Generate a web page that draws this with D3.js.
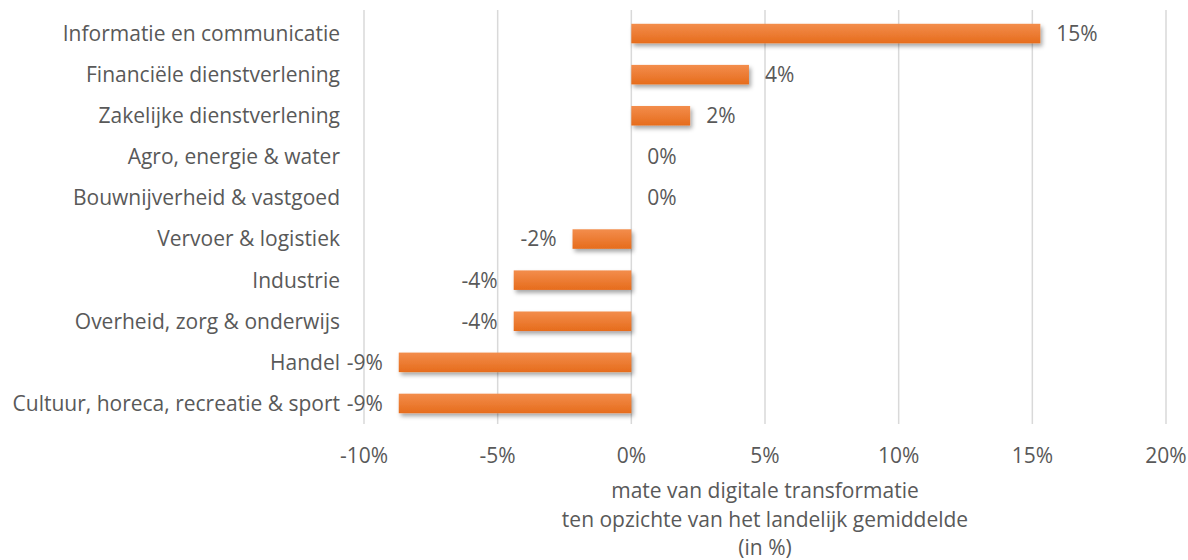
<!DOCTYPE html>
<html>
<head>
<meta charset="utf-8">
<script src="https://cdn.jsdelivr.net/npm/d3@7"></script>
<style>
  body { margin: 0; background: #fff; }
  text { font-family: 'Open Sans', Lato, sans-serif; fill: #595959; }
</style>
</head>
<body>
<div id="chart"></div>
<script>
// data
const categories = [
  'Informatie en communicatie',
  'Financiële dienstverlening',
  'Zakelijke dienstverlening',
  'Agro, energie & water',
  'Bouwnijverheid & vastgoed',
  'Vervoer & logistiek',
  'Industrie',
  'Overheid, zorg & onderwijs',
  'Handel',
  'Cultuur, horeca, recreatie & sport'
];
const values = [15.3, 4.4, 2.2, 0, 0, -2.2, -4.4, -4.4, -8.7, -8.7];
const xTicks = [-10, -5, 0, 5, 10, 15, 20];
const axisTitle = ['mate van digitale transformatie', 'ten opzichte van het landelijk gemiddelde', '(in %)'];

const width = 1188, height = 560;
const margin = { top: 13, right: 22, bottom: 136, left: 364 };
const fontSize = 21;

const svg = d3.select('#chart').append('svg')
  .attr('width', width)
  .attr('height', height);

const defs = svg.append('defs');

const grad = defs.append('linearGradient')
  .attr('id', 'bar-grad')
  .attr('x1', 0).attr('y1', 0).attr('x2', 0).attr('y2', 1);
grad.append('stop').attr('offset', '0%').attr('stop-color', '#f38d4c');
grad.append('stop').attr('offset', '100%').attr('stop-color', '#e66c1c');

const shadow = defs.append('filter')
  .attr('id', 'shadow')
  .attr('x', '-10%').attr('y', '-30%')
  .attr('width', '130%').attr('height', '190%');
shadow.append('feDropShadow')
  .attr('dx', 2).attr('dy', 3)
  .attr('stdDeviation', 2)
  .attr('flood-color', '#000')
  .attr('flood-opacity', 0.35);

const x = d3.scaleLinear()
  .domain([-10, 20])
  .range([margin.left, width - margin.right]);

const y = d3.scaleBand()
  .domain(categories)
  .range([margin.top, height - margin.bottom])
  .paddingInner(0.525)
  .paddingOuter(0.2625);

// gridlines
svg.append('g')
  .selectAll('line')
  .data(xTicks)
  .join('line')
  .attr('x1', d => x(d)).attr('x2', d => x(d))
  .attr('y1', margin.top - 3)
  .attr('y2', height - margin.bottom)
  .attr('stroke', '#d9d9d9')
  .attr('stroke-width', 1.5);

// x tick labels
svg.append('g')
  .selectAll('text')
  .data(xTicks)
  .join('text')
  .attr('x', d => x(d))
  .attr('y', 463)
  .attr('text-anchor', 'middle')
  .attr('font-size', fontSize)
  .text(d => d + '%');

// bars
svg.append('g')
  .selectAll('rect')
  .data(values.map((v, i) => ({ cat: categories[i], v })).filter(d => d.v !== 0))
  .join('rect')
  .attr('x', d => x(Math.min(0, d.v)))
  .attr('y', d => y(d.cat))
  .attr('width', d => Math.abs(x(d.v) - x(0)))
  .attr('height', y.bandwidth())
  .attr('fill', 'url(#bar-grad)')
  .attr('filter', 'url(#shadow)');

// value labels
svg.append('g')
  .selectAll('text')
  .data(values.map((v, i) => ({ cat: categories[i], v })))
  .join('text')
  .attr('x', d => d.v >= 0 ? x(d.v) + 16 : x(d.v) - 16)
  .attr('y', d => y(d.cat) + y.bandwidth() / 2)
  .attr('dy', '0.35em')
  .attr('text-anchor', d => d.v >= 0 ? 'start' : 'end')
  .attr('font-size', fontSize)
  .text(d => Math.round(d.v) + '%');

// category labels
svg.append('g')
  .selectAll('text')
  .data(categories)
  .join('text')
  .attr('x', 340)
  .attr('y', d => y(d) + y.bandwidth() / 2)
  .attr('dy', '0.35em')
  .attr('text-anchor', 'end')
  .attr('font-size', fontSize)
  .text(d => d);

// axis title
svg.append('g')
  .selectAll('text')
  .data(axisTitle)
  .join('text')
  .attr('x', (x(-10) + x(20)) / 2)
  .attr('y', (d, i) => 498 + i * 28.5)
  .attr('text-anchor', 'middle')
  .attr('font-size', fontSize)
  .text(d => d);
</script>
</body>
</html>
